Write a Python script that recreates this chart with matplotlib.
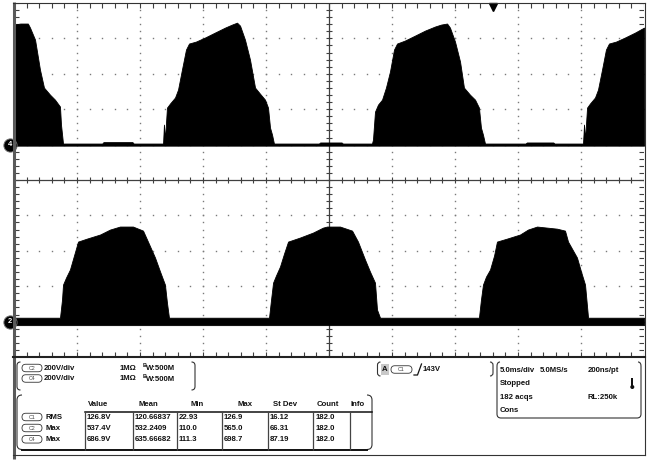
import matplotlib
matplotlib.use("Agg")
import matplotlib.pyplot as plt
import numpy as np
from matplotlib.patches import FancyBboxPatch, Rectangle, Circle, PathPatch
from matplotlib.path import Path

plt.rcParams['font.family'] = ['Liberation Sans', 'DejaVu Sans']

W, H = 648, 461

# ---- acquisition settings ----
time_per_div_ms = 5.0
volts_per_div = 200.0
c4_offset_div = 1.0
c2_offset_div = -4.0
trigger_time_ms = 13.0

# ---- channel 4: envelope of the acquired waveform (time in ms, volts) ----
c4_t_ms = [-25.0, -24.5, -23.9, -23.73, -23.33, -22.94, -22.62, -22.14, -21.75, -21.35, -21.27, -21.19, -21.11,
           -18.0, -17.9, -15.6, -15.5,
           -13.17, -13.1, -13.02, -12.86, -12.62, -12.22, -11.98, -11.67, -11.35, -11.11, -10.56, -9.84, -9.05,
           -8.25, -7.70, -7.30, -7.06, -6.67, -6.27, -5.87, -5.48, -5.08, -4.84, -4.68, -4.52, -4.37,
           -0.8, -0.7, 1.0, 1.1,
           3.41, 3.49, 3.65, 3.89, 4.21, 4.52, 4.84, 5.16, 5.40, 6.03, 6.83, 7.62, 8.41, 8.89, 9.37, 9.60,
           10.0, 10.40, 10.71, 11.19, 11.59, 11.90, 12.06, 12.22, 12.38,
           15.6, 15.7, 17.8, 17.9,
           20.16, 20.24, 20.32, 20.48, 20.71, 21.11, 21.35, 21.67, 21.98, 22.22, 22.78, 23.49, 24.29, 25.0]
c4_env_v = [678, 684, 684, 661, 593, 424, 322, 282, 254, 215, 113, 60, 6,
            6, 14, 14, 6,
            6, 113, 28, 209, 232, 266, 311, 424, 537, 571, 582, 605, 633,
            661, 678, 689, 672, 593, 480, 322, 288, 254, 209, 96, 56, 6,
            6, 12, 12, 6,
            6, 28, 186, 226, 254, 322, 413, 537, 571, 588, 616, 644, 667, 678, 684, 661,
            582, 469, 322, 282, 254, 209, 96, 56, 6,
            6, 12, 12, 6,
            6, 113, 28, 209, 232, 266, 311, 424, 537, 571, 582, 605, 633, 661]
c4_floor_v = -6

# ---- channel 2: envelope of the acquired waveform (time in ms, volts) ----
c2_t_ms = [-25.0, -21.43, -21.35, -21.19, -21.11, -20.87, -20.56, -20.24, -19.92, -19.21, -18.17, -17.38,
           -16.59, -15.56, -14.76, -14.37, -13.81, -13.41, -13.02, -12.86, -12.70,
           -4.76, -4.60, -4.44, -4.21, -3.89, -3.57, -3.25, -2.30, -1.27, -0.48, -0.16, 0.87, 1.83, 2.30,
           2.86, 3.25, 3.65, 3.81, 4.05,
           11.90, 12.06, 12.22, 12.46, 12.78, 13.10, 13.33, 14.13, 15.16, 15.79, 16.51, 18.10, 18.73, 18.97,
           19.68, 20.0, 20.32, 20.48, 20.56, 25.0]
c2_env_v = [22, 22, 22, 124, 209, 249, 294, 373, 452, 469, 492, 520,
            537, 537, 514, 452, 362, 283, 209, 107, 22,
            22, 124, 220, 260, 311, 384, 452, 475, 503, 531, 537, 537, 514, 452,
            350, 283, 220, 68, 22,
            22, 124, 209, 254, 294, 373, 452, 469, 492, 520, 537, 525, 514, 452,
            362, 283, 209, 85, 22, 22]
c2_floor_v = -20

# ---- measurement table ----
meas_headers = ["Value", "Mean", "Min", "Max", "St Dev", "Count", "Info"]
meas_sources = ["C1", "C2", "C4"]
meas_names = ["RMS", "Max", "Max"]
meas_value = ["126.8V", "537.4V", "686.9V"]
meas_mean = ["120.66837", "532.2409", "635.66682"]
meas_min = ["22.93", "110.0", "111.3"]
meas_max = ["126.9", "565.0", "698.7"]
meas_std = ["16.12", "66.31", "87.19"]
meas_count = ["182.0", "182.0", "182.0"]

fig = plt.figure(figsize=(W / 100, H / 100), dpi=100)
fig.patch.set_facecolor('white')

# ---------------- graticule / waveform area ----------------
ax = fig.add_axes([14 / W, (H - 357) / H, 630 / W, 354 / H])
ax.set_xlim(-5, 5)
ax.set_ylim(-5, 5)
ax.axis('off')
ax.patch.set_alpha(0)

fine = np.round(np.arange(-5, 5.001, 0.2), 3)
dot_col = '#7a7a7a'
for g in range(-4, 5):
    if g == 0:
        continue
    ax.plot(np.full_like(fine, g), fine, ls='none', marker='s', ms=1.0, mew=0, color=dot_col, zorder=1)
    ax.plot(fine, np.full_like(fine, g), ls='none', marker='s', ms=1.0, mew=0, color=dot_col, zorder=1)

axis_col = '#404040'
ax.axhline(0, color=axis_col, lw=0.9, zorder=1)
ax.axvline(0, color=axis_col, lw=0.9, zorder=1)
ax.vlines(fine, -0.09, 0.09, color=axis_col, lw=0.8, zorder=1)
ax.hlines(fine, -0.05, 0.05, color=axis_col, lw=0.8, zorder=1)
ax.vlines(fine, 5 - 0.14, 5, color=axis_col, lw=0.8, zorder=1)
ax.vlines(fine, -5, -5 + 0.14, color=axis_col, lw=0.8, zorder=1)
ax.hlines(fine, -5, -5 + 0.08, color=axis_col, lw=0.8, zorder=1)
ax.hlines(fine, 5 - 0.08, 5, color=axis_col, lw=0.8, zorder=1)

def draw_trace(t_ms, env_v, floor_v, offset_div):
    x = np.asarray(t_ms, float) / time_per_div_ms
    top = offset_div + np.asarray(env_v, float) / volts_per_div
    bot = offset_div + floor_v / volts_per_div
    ax.fill_between(x, bot, top, color='black', lw=0.6, zorder=3)

draw_trace(c4_t_ms, c4_env_v, c4_floor_v, c4_offset_div)
draw_trace(c2_t_ms, c2_env_v, c2_floor_v, c2_offset_div)

# trigger position marker
ax.plot(trigger_time_ms / time_per_div_ms, 4.88, marker='v', ms=5.5, color='black', clip_on=False, zorder=6)

# channel ground markers
for lab, off in (("4", c4_offset_div), ("2", c2_offset_div)):
    ax.plot(-5.07, off, marker='o', ms=9.5, color='black', mec='#6a6a6a', mew=0.7, clip_on=False, zorder=8)
    ax.text(-5.07, off, lab, color='white', fontsize=5.4, weight='bold', ha='center', va='center',
            zorder=9, clip_on=False)

# ---------------- frame and status panel (pixel space) ----------------
ov = fig.add_axes([0, 0, 1, 1])
ov.set_xlim(0, W)
ov.set_ylim(H, 0)
ov.axis('off')
ov.patch.set_alpha(0)

ov.plot([13.5, 13.5], [2.5, 459], color='#5a5a5a', lw=2.2, solid_capstyle='butt')
ov.plot([13, 644.5], [3.5, 3.5], color='#333333', lw=0.8)
ov.plot([644.5, 644.5], [3, 455], color='#333333', lw=0.8)
ov.plot([13, 644.5], [357, 357], color='#222222', lw=1.5)
ov.plot([13, 644.5], [455, 455], color='#333333', lw=0.8)

FS = 5.6
TXT = dict(fontsize=FS, weight='bold', color='#111111', va='center')

def bracket(x, y0, y1, side, r=3.5, lw=0.8, color='#333333'):
    # side = +1 for an opening bracket "(", -1 for a closing bracket ")"
    verts = [(x + side * r, y0), (x, y0), (x, y0 + r), (x, y1 - r), (x, y1), (x + side * r, y1)]
    codes = [Path.MOVETO, Path.CURVE3, Path.CURVE3, Path.LINETO, Path.CURVE3, Path.CURVE3]
    ov.add_patch(PathPatch(Path(verts, codes), fc='none', ec=color, lw=lw))

def chip(x0, x1, yc, label):
    h = 7.5
    ov.add_patch(FancyBboxPatch((x0, yc - h / 2), x1 - x0, h,
                                boxstyle=f'round,pad=0,rounding_size={h / 2}',
                                fc='white', ec='#333333', lw=0.6))
    ov.text((x0 + x1) / 2, yc, label, fontsize=3.8, color='#444444', ha='center', va='center')

# channel settings block
bracket(17, 362, 390, +1)
bracket(195, 362, 390, -1)
for yc, ch in ((368, "C2"), (378.5, "C4")):
    chip(22, 42, yc, ch)
    ov.text(44, yc, "200V/div", ha='left', **TXT)
    ov.text(120, yc, "1MΩ", ha='left', **TXT)
    ov.text(142.5, yc - 2.5, "B", ha='left', fontsize=4.0, weight='bold', color='#111111', va='center')
    ov.text(145.5, yc + 0.8, "W:500M", ha='left', **TXT)

# measurement table
bracket(17, 395, 449.5, +1, r=5)
bracket(372, 395, 449.5, -1, r=5)
ov.plot([22, 367], [449.5, 449.5], color='#111111', lw=1.4)
ov.plot([85, 372], [411.8, 411.8], color='#111111', lw=1.1)
col_lines = [85, 133, 177, 222, 268, 313, 350]
ov.vlines(col_lines, 411.8, 449.5, color='#444444', lw=0.9)
hdr_x = [98, 148, 197, 245, 285, 328, 358]
for hx, h in zip(hdr_x, meas_headers):
    ov.text(hx, 404.5, h, ha='center', **TXT)
row_y = [417, 428, 439.3]
cell_x = [87, 135, 179, 224, 270, 316]
for i, yc in enumerate(row_y):
    chip(22, 42, yc, meas_sources[i])
    ov.text(45, yc, meas_names[i], ha='left', **TXT)
    vals = [meas_value[i], meas_mean[i], meas_min[i], meas_max[i], meas_std[i], meas_count[i]]
    for cx, v in zip(cell_x, vals):
        ov.text(cx, yc, v, ha='left', **TXT)

# trigger block
bracket(377.5, 362, 376, +1, r=3)
ov.add_patch(Rectangle((381, 364), 7.5, 11, fc='#c8c8c8', ec='none'))
ov.text(384.8, 369.5, "A", ha='center', **TXT)
chip(391, 412, 369.5, "C1")
ov.plot([414, 417.5, 421.5], [375, 375, 364], color='#111111', lw=0.9)
ov.text(423, 369.5, "143V", ha='left', **TXT)
bracket(493, 362, 376, -1, r=3)

# timebase block
tb = [(500, 362), (497, 362), (497, 366), (497, 414), (497, 418), (501, 418),
      (637, 418), (641, 418), (641, 414), (641, 366), (641, 362), (638, 362)]
tb_codes = [Path.MOVETO, Path.CURVE3, Path.CURVE3, Path.LINETO, Path.CURVE3, Path.CURVE3,
            Path.LINETO, Path.CURVE3, Path.CURVE3, Path.LINETO, Path.CURVE3, Path.CURVE3]
ov.add_patch(PathPatch(Path(tb, tb_codes), fc='none', ec='#333333', lw=0.8))
ov.text(500, 370, "5.0ms/div", ha='left', **TXT)
ov.text(540, 370, "5.0MS/s", ha='left', **TXT)
ov.text(588, 370, "200ns/pt", ha='left', **TXT)
ov.text(500, 383.5, "Stopped", ha='left', **TXT)
ov.add_patch(Rectangle((631.2, 377.5), 2.2, 8.5, fc='#111111', ec='none'))
ov.add_patch(Circle((632.3, 387), 2.0, fc='#111111', ec='none'))
ov.text(500, 397, "182 acqs", ha='left', **TXT)
ov.text(588, 397, "RL:250k", ha='left', **TXT)
ov.text(500, 410.5, "Cons", ha='left', **TXT)

fig.savefig("out.png", dpi=100, facecolor='white')
